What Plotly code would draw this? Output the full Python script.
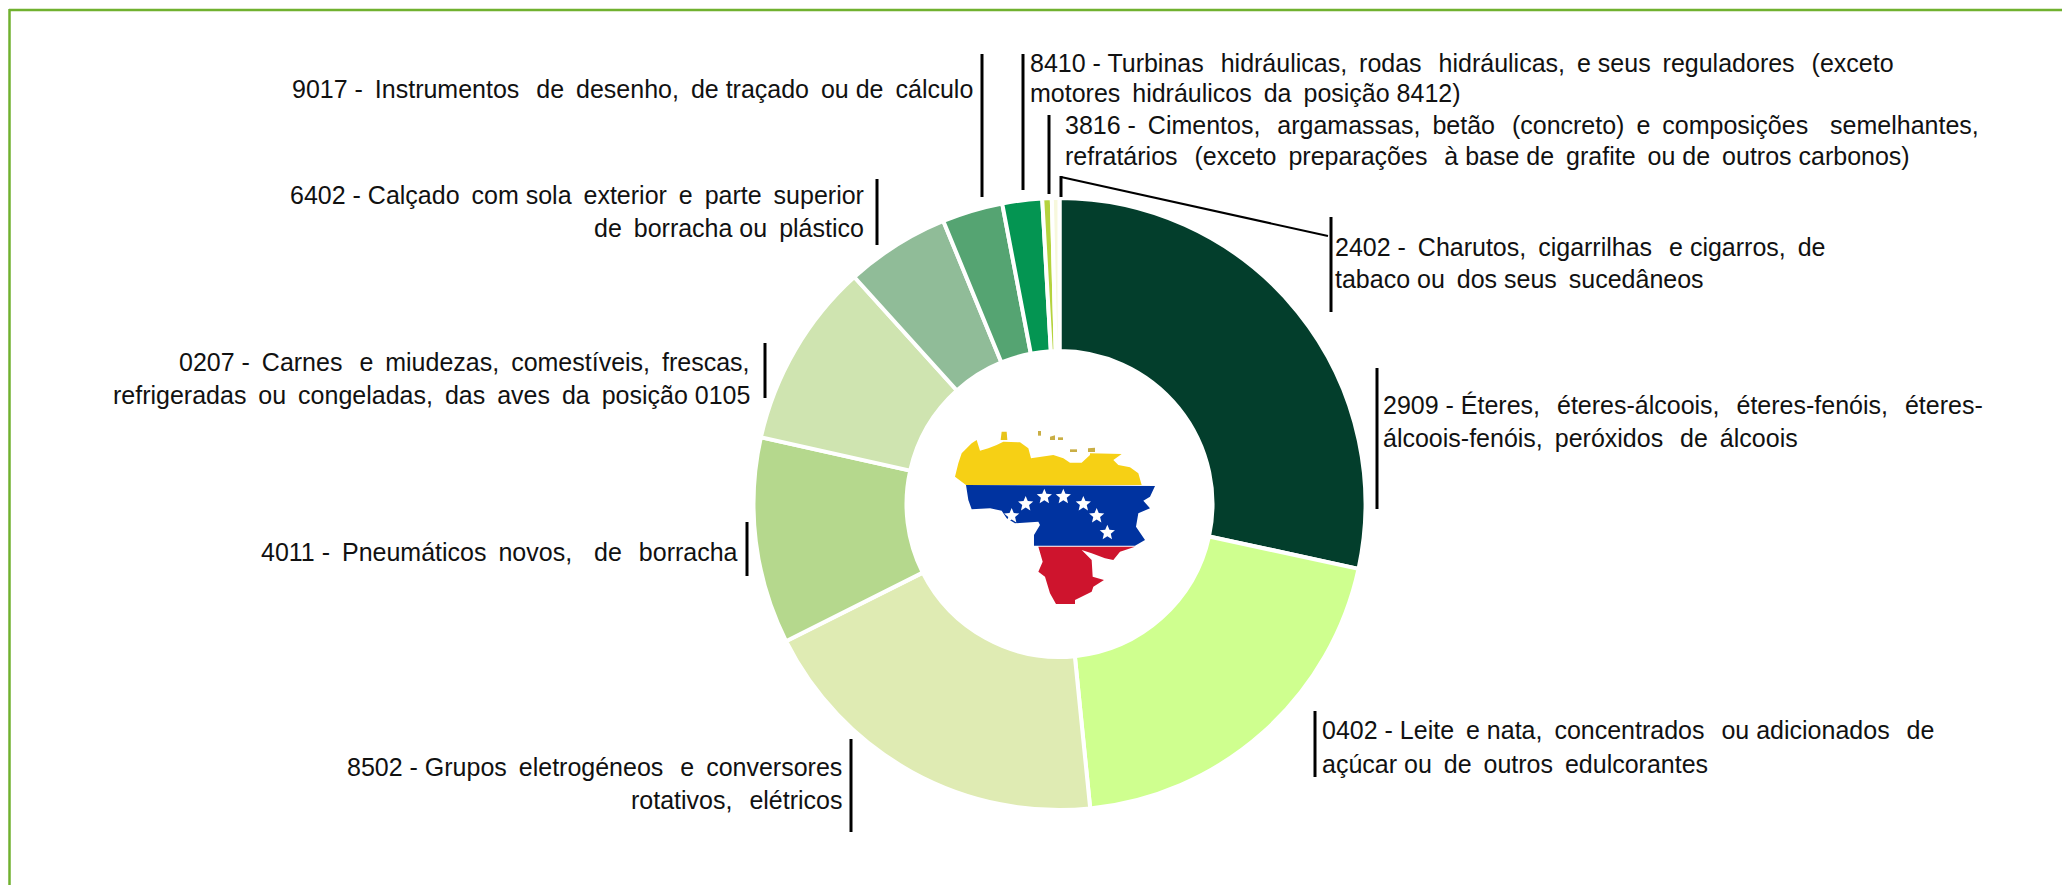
import math
import plotly.graph_objects as go

W, H = 2062, 885

# ---- data ----
codes = ["2909", "0402", "8502", "4011", "0207", "6402", "9017", "8410", "3816", "2402"]
values = [28.4, 20.0, 19.2, 10.9, 9.8, 5.5, 3.2, 2.1, 0.5, 0.4]
colors = ["#033E2C", "#CFFF8F", "#DFEBB3", "#B5D88D", "#CFE4B0",
          "#90BC98", "#55A472", "#049552", "#B5D33D", "#F7F8DC"]

# text line ("~" = extra thin space, the reference text is stretched), anchor, x, y
label_lines = [
    ("8410 - Turbinas~~ hidráulicas,~ rodas~~ hidráulicas,~ e seus~ reguladores~~ (exceto", "left", 1029, 63),
    ("motores~ hidráulicos~ da~ posição 8412)", "left", 1029, 93),
    ("3816 -~ Cimentos,~~ argamassas,~ betão~~ (concreto)~ e~ composições~~~ semelhantes,", "left", 1064, 125),
    ("refratários~~ (exceto~ preparações~~ à base de~ grafite~ ou de~ outros carbonos)", "left", 1064, 156),
    ("2402 -~ Charutos,~ cigarrilhas~~ e cigarros,~ de", "left", 1334, 247),
    ("tabaco ou~ dos seus~ sucedâneos", "left", 1334, 279),
    ("2909 - Éteres,~~ éteres-álcoois,~~ éteres-fenóis,~~ éteres-", "left", 1382, 405),
    ("álcoois-fenóis,~ peróxidos~~ de~ álcoois", "left", 1382, 438),
    ("0402 - Leite~ e nata,~ concentrados~~ ou adicionados~~ de", "left", 1321, 730),
    ("açúcar ou~ de~ outros~ edulcorantes", "left", 1321, 764),
    ("8502 - Grupos~ eletrogéneos~~ e~ conversores", "right", 843, 767),
    ("rotativos,~~ elétricos", "right", 843, 800),
    ("4011 -~ Pneumáticos~ novos,~~~ de~~ borracha", "right", 739, 552),
    ("0207 -~ Carnes~~ e~ miudezas,~ comestíveis,~ frescas,", "right", 751, 362),
    ("refrigeradas~ ou~ congeladas,~ das~ aves~ da~ posição 0105", "right", 751, 395),
    ("6402 - Calçado~ com sola~ exterior~ e~ parte~ superior", "right", 865, 195),
    ("de~ borracha ou~ plástico", "right", 865, 228),
    ("9017 -~ Instrumentos~~ de~ desenho,~ de traçado~ ou de~ cálculo", "right", 974, 89),
]

# vertical label bars: x, y0, y1
bars = [(982, 54, 197), (1023, 54, 190), (1049, 115, 194), (1061, 176, 197),
        (1331, 217, 312), (1377, 368, 509), (1315, 711, 777), (851, 739, 832),
        (747, 522, 576), (765, 343, 398), (877, 179, 245)]
slanted = (1061, 177, 1328, 236)

# Venezuela flag outline traced in zoom coordinates
yellow = [(198,315),(165,290),(175,250),(185,220),(215,190),(230,180),(240,212),(265,205),(290,195),
          (310,185),(360,187),(385,205),(393,235),(460,225),(490,235),(510,248),(545,248),(570,225),
          (570,220),(665,222),(640,240),(655,255),(690,262),(715,280),(725,315)]
isl1 = [(305,155),(320,155),(322,180),(302,180)]
isl2 = [(414,153),(423,153),(423,167),(414,167)]
isl3 = [(450,170),(465,166),(465,180),(450,180)]
isl4 = [(474,172),(489,172),(489,180),(474,180)]
isl5 = [(510,208),(531,208),(531,216),(510,216)]
isl6 = [(564,205),(585,203),(585,216),(564,216)]
blue = [(198,315),(765,318),(750,350),(730,362),(750,385),(715,400),(708,440),(735,480),(705,497),
        (402,497),(402,465),(420,435),(415,425),(345,430),(320,415),(305,392),(270,385),(215,388),(205,360)]
red = [(415,500),(705,500),(660,515),(640,540),(615,535),(575,520),(545,510),(575,540),(578,590),
       (612,600),(580,620),(575,635),(525,660),(525,672),(468,672),(450,640),(435,590),(415,575),(428,545)]
star_centres = [(335,408),(377,372),(433,350),(490,350),(550,372),(590,408),(622,458)]


def px(x):
    return x / W


def py(y):
    return 1 - y / H


def flag_path(points):
    pts = [(900 + x / 3, 380 + y / 3) for x, y in points]
    return "M " + " L ".join(f"{px(x):.5f} {py(y):.5f}" for x, y in pts) + " Z"


def star(cx, cy, r=24):
    out = []
    for i in range(10):
        rad = r if i % 2 == 0 else r * 0.45
        a = -math.pi / 2 + i * math.pi / 5
        out.append((cx + rad * math.cos(a), cy + rad * math.sin(a)))
    return out


fig = go.Figure(go.Pie(
    labels=codes, values=values, sort=False, direction="clockwise", rotation=0, hole=0.5,
    marker=dict(colors=colors, line=dict(color="white", width=4)),
    textinfo="none", hoverinfo="label+percent", showlegend=False,
    domain=dict(x=[px(1059.5 - 306), px(1059.5 + 306)], y=[py(504 + 306), py(504 - 306)]),
))

shapes = [
    dict(type="line", xref="paper", yref="paper", x0=px(9.5), x1=px(9.5), y0=py(9), y1=0,
         line=dict(color="#70B12F", width=2.5)),
    dict(type="line", xref="paper", yref="paper", x0=px(9), x1=1, y0=py(10), y1=py(10),
         line=dict(color="#70B12F", width=2.5)),
]
for x, y0, y1 in bars:
    shapes.append(dict(type="line", xref="paper", yref="paper", x0=px(x), x1=px(x), y0=py(y0), y1=py(y1),
                       line=dict(color="black", width=3)))
shapes.append(dict(type="line", xref="paper", yref="paper", x0=px(slanted[0]), y0=py(slanted[1]),
                   x1=px(slanted[2]), y1=py(slanted[3]), line=dict(color="black", width=2)))
for poly, col in [(yellow, "#F6D015"), (isl1, "#E8C41A"), (isl2, "#C9AE45"), (isl3, "#C9AE45"),
                  (isl4, "#C9AE45"), (isl5, "#C9AE45"), (isl6, "#C9AE45"),
                  (blue, "#0033A0"), (red, "#CE142D")]:
    shapes.append(dict(type="path", xref="paper", yref="paper", path=flag_path(poly),
                       fillcolor=col, line=dict(width=0)))
for c in star_centres:
    shapes.append(dict(type="path", xref="paper", yref="paper", path=flag_path(star(*c)),
                       fillcolor="white", line=dict(width=0)))

annotations = [
    dict(text=t.replace("~", "\u2009"), xref="paper", yref="paper", x=px(x), y=py(y), xanchor=a, yanchor="middle",
         showarrow=False, borderpad=0, font=dict(family="Liberation Sans", size=25, color="#111111"))
    for t, a, x, y in label_lines
]

fig.update_layout(width=W, height=H, margin=dict(l=0, r=0, t=0, b=0), autosize=False,
                  paper_bgcolor="white", shapes=shapes, annotations=annotations)
fig.write_html("out.html", config=dict(displayModeBar=False),
               post_script="document.body.style.margin='0';document.body.style.overflow='hidden';")
